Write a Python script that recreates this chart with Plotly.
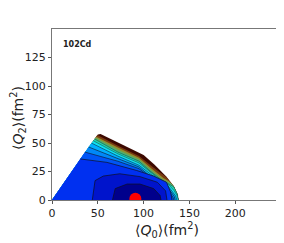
import plotly.graph_objects as go

x_ticks = [0, 50, 100, 150, 200]
y_ticks = [0, 25, 50, 75, 100, 125]
label = "102Cd"
x_title = "⟨<i>Q</i><sub>0</sub>⟩(fm<sup>2</sup>)"
y_title = "⟨<i>Q</i><sub>2</sub>⟩(fm<sup>2</sup>)"
minimum = (91, 1)

# Iso-energy curves, outermost (highest) first
domain_q0 = [50, 53, 75, 100, 112, 125, 133, 137, 138]
domain_q2 = [57.5, 58, 49, 39.5, 31, 20.5, 12, 5, 0]
l1_q0 = [49.5, 72, 95, 110, 125, 133, 137, 138]
l1_q2 = [57, 47.5, 38.5, 29, 20, 12, 5, 0]
l2_q0 = [48.5, 72, 95, 109, 122, 128, 133, 137, 138]
l2_q2 = [55.5, 46, 37, 27.5, 19, 16.5, 12, 5, 0]
l3_q0 = [47.5, 72, 95, 108, 120, 130, 133, 137, 138]
l3_q2 = [54.5, 44, 35.5, 26.5, 18.5, 14.5, 12, 5, 0]
l4_q0 = [46.5, 72, 95, 107, 119, 128, 133, 137, 138]
l4_q2 = [53.5, 42, 34, 25.5, 18, 14, 11.5, 5, 0]
l5_q0 = [45, 72, 95, 106, 118, 128, 133, 136.5, 138]
l5_q2 = [52, 40.5, 32.5, 25, 17.5, 13, 8.5, 4, 0]
l6_q0 = [43, 72, 95, 105, 117, 127, 132, 135, 136.3]
l6_q2 = [50, 38.5, 30.5, 24, 17, 12, 7, 3.5, 0]
l7_q0 = [40, 72, 95, 104, 116, 125, 130.5, 133.5, 134.5]
l7_q2 = [46.5, 36.5, 29, 23, 16.5, 11.5, 6.5, 3, 0]
l8_q0 = [36, 72, 95, 103, 115, 124, 129, 132, 133]
l8_q2 = [42, 34, 27.5, 22.5, 16, 11, 6, 2.5, 0]
a_q0 = [31, 60, 92, 111, 125, 129.5, 131]
a_q2 = [36, 33, 26, 21, 15.6, 7, 0]
b_q0 = [44, 47, 56, 74, 96, 115, 124, 125.5]
b_q2 = [0, 17, 21, 23, 20.5, 15.6, 8, 0]
c_q0 = [66, 69, 82, 96, 111, 118, 119]
c_q2 = [0, 10, 14, 14, 10, 4, 0]

bands = [
    ("#3c0800", domain_q0, domain_q2, 0),
    ("#7a3a10", l1_q0, l1_q2, 0),
    ("#8f8f30", l2_q0, l2_q2, 0),
    ("#50b070", l3_q0, l3_q2, 0),
    ("#20d8b0", l4_q0, l4_q2, 0.4),
    ("#10e0f0", l5_q0, l5_q2, 0.4),
    ("#00b0ff", l6_q0, l6_q2, 0.5),
    ("#0088f8", l7_q0, l7_q2, 0.6),
    ("#0055f5", l8_q0, l8_q2, 0.6),
    ("#0030f0", a_q0, a_q2, 0.7),
    ("#0014cc", b_q0, b_q2, 0.7),
    ("#00008c", c_q0, c_q2, 0.7),
]

fig = go.Figure()
for colour, q0, q2, lw in bands:
    starts_on_axis = q2[0] == 0
    xs = list(q0) if starts_on_axis else [0] + list(q0)
    ys = list(q2) if starts_on_axis else [0] + list(q2)
    fig.add_trace(go.Scatter(x=xs, y=ys, mode="lines", fill="toself", fillcolor=colour,
                             line=dict(width=0), hoverinfo="skip", showlegend=False))
    if lw:
        fig.add_trace(go.Scatter(x=q0, y=q2, mode="lines", line=dict(color="#101020", width=lw),
                                 hoverinfo="skip", showlegend=False))

fig.add_trace(go.Scatter(x=[minimum[0]], y=[minimum[1]], mode="markers",
                         marker=dict(color="#ff0000", size=12), showlegend=False))

axis = dict(showline=True, mirror=True, linecolor="#777777", linewidth=1.2, showgrid=False,
            zeroline=False, ticks="outside", ticklen=3, tickcolor="#555555", tickwidth=1,
            automargin=False,
            tickfont=dict(family="DejaVu Sans", size=11, color="#222222"))
title_font = dict(family="DejaVu Sans", size=14, color="#222222")
fig.update_layout(
    width=276, height=235, margin=dict(l=44, r=3, t=21, b=43),
    paper_bgcolor="white", plot_bgcolor="white",
    font=dict(family="DejaVu Sans"),
    xaxis=dict(axis, range=[0, 250], tickvals=x_ticks),
    yaxis=dict(axis, range=[0, 150], tickvals=y_ticks),
    annotations=[
        dict(x=9.5, y=136, text="<b>%s</b>" % label, showarrow=False, xanchor="left",
             font=dict(family="DejaVu Sans", size=8, color="#222222")),
        dict(xref="paper", yref="paper", x=0.5, y=-0.175, text=x_title, showarrow=False,
             xanchor="center", yanchor="middle", font=title_font),
        dict(xref="paper", yref="paper", x=-0.148, y=0.48, text=y_title, showarrow=False,
             textangle=-90, xanchor="center", yanchor="middle", font=title_font),
    ],
)
fig.write_html("out.html")
